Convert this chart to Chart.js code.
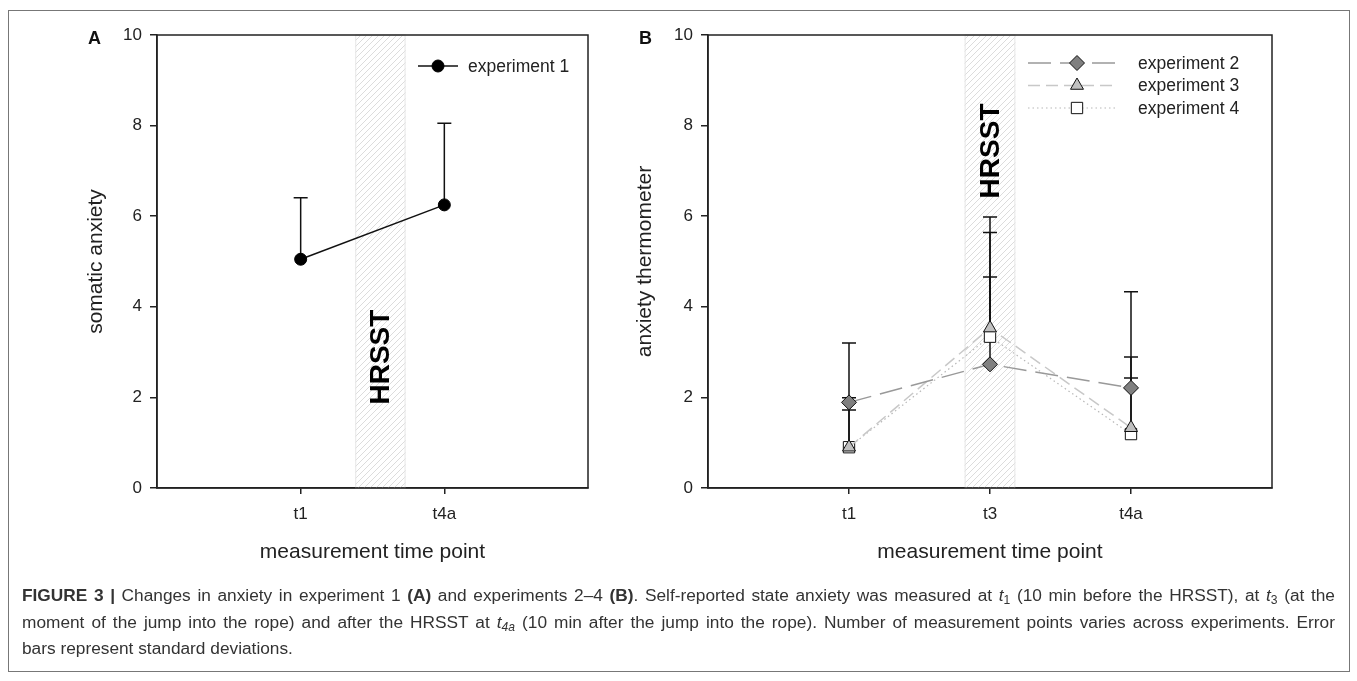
<!DOCTYPE html>
<html>
<head>
<meta charset="utf-8">
<title>Figure 3 - anxiety across experiments</title>
<script src="https://cdn.jsdelivr.net/npm/chart.js"></script>
<style>
  body { margin: 0; background: #fff; font-family: "Liberation Sans", Arial, sans-serif; color: #222; }
  #page { position: relative; width: 1357px; height: 681px; overflow: hidden; }
  #frame { position: absolute; left: 8px; top: 10px; width: 1342px; height: 662px; border: 1px solid #777; box-sizing: border-box; }
  canvas { position: absolute; top: 0; }
  #chartA { left: 0; }
  #chartB { left: 560px; }
  .tag { position: absolute; top: 27px; font-weight: bold; font-size: 18px; line-height: 22px; color: #111; }
  #caption { position: absolute; left: 22px; top: 582px; width: 1313px; font-size: 17.3px; line-height: 26.5px; color: #333; }
  #caption div { text-align: justify; text-align-last: justify; white-space: nowrap; }
  #caption div.last { text-align-last: left; }
  #caption sub { font-size: 70%; vertical-align: -3px; line-height: 0; }
</style>
</head>
<body>
<div id="page">
  <div id="frame"></div>
  <canvas id="chartA" width="650" height="600"></canvas>
  <canvas id="chartB" width="797" height="600"></canvas>
  <div class="tag" style="left:88px">A</div>
  <div class="tag" style="left:639px">B</div>
  <div id="caption">
    <div><b>FIGURE 3 |</b> Changes in anxiety in experiment 1 <b>(A)</b> and experiments 2–4 <b>(B)</b>. Self-reported state anxiety was measured at <i>t</i><sub>1</sub> (10 min before the HRSST), at <i>t</i><sub>3</sub> (at the</div>
    <div>moment of the jump into the rope) and after the HRSST at <i>t</i><sub><i>4a</i></sub> (10 min after the jump into the rope). Number of measurement points varies across experiments. Error</div>
    <div class="last">bars represent standard deviations.</div>
  </div>
</div>

<script>
  // panel A: experiment 1
  const catsA = ['t1', 't4a'];
  const exp1 = [5.05, 6.25];
  const exp1Sd = [1.36, 1.80];

  // panel B: experiments 2-4
  const catsB = ['t1', 't3', 't4a'];
  const exp2 = [1.89, 2.73, 2.21];
  const exp2Sd = [1.31, 1.93, 2.12];
  const exp3 = [0.90, 3.53, 1.33];
  const exp3Sd = [0.82, 2.45, 1.10];
  const exp4 = [0.90, 3.34, 1.19];
  const exp4Sd = [1.09, 2.30, 1.70];

  const yTicks = [0, 2, 4, 6, 8, 10];

  // HRSST window, in x-axis units
  const hrsstA = [1.38, 1.73];
  const hrsstB = [1.82, 2.18];

  const FONT = '"Liberation Sans", Arial, sans-serif';

  function pts(vals) {
    return vals.map((v, i) => ({ x: i + 1, y: v }));
  }

  function hatch(ctx) {
    const c = document.createElement('canvas');
    c.width = 6; c.height = 6;
    const g = c.getContext('2d');
    g.strokeStyle = '#dcdcdc';
    g.lineWidth = 1;
    g.beginPath();
    g.moveTo(0, 6); g.lineTo(6, 0);
    g.moveTo(-1, 1); g.lineTo(1, -1);
    g.moveTo(5, 7); g.lineTo(7, 5);
    g.stroke();
    return ctx.createPattern(c, 'repeat');
  }

  function marker(ctx, ds, x, y) {
    const r = ds.pointRadius;
    ctx.fillStyle = ds.pointBackgroundColor;
    ctx.strokeStyle = ds.pointBorderColor;
    ctx.lineWidth = ds.pointBorderWidth;
    ctx.setLineDash([]);
    ctx.beginPath();
    if (ds.pointStyle === 'circle') {
      ctx.arc(x, y, r, 0, Math.PI * 2);
    } else if (ds.pointStyle === 'rectRot') {
      ctx.moveTo(x - r, y); ctx.lineTo(x, y - r); ctx.lineTo(x + r, y); ctx.lineTo(x, y + r);
    } else if (ds.pointStyle === 'triangle') {
      ctx.moveTo(x, y - r);
      ctx.lineTo(x + r * 0.866, y + r * 0.5);
      ctx.lineTo(x - r * 0.866, y + r * 0.5);
    } else {
      const s = r * Math.SQRT1_2;
      ctx.rect(x - s, y - s, 2 * s, 2 * s);
    }
    ctx.closePath();
    ctx.fill();
    ctx.stroke();
  }

  const extras = {
    id: 'extras',
    beforeDatasetsDraw(chart, args, opts) {
      const { ctx, chartArea: a, scales: { x, y } } = chart;
      const x0 = x.getPixelForValue(opts.band[0]);
      const x1 = x.getPixelForValue(opts.band[1]);
      ctx.save();
      ctx.fillStyle = hatch(ctx);
      ctx.fillRect(x0, a.top, x1 - x0, a.bottom - a.top);
      ctx.strokeStyle = '#e6e6e6';
      ctx.lineWidth = 1;
      ctx.strokeRect(x0 + 0.5, a.top, x1 - x0 - 1, a.bottom - a.top);
      ctx.translate((x0 + x1) / 2, y.getPixelForValue(opts.labelAt));
      ctx.rotate(-Math.PI / 2);
      ctx.font = 'bold 28px ' + FONT;
      ctx.fillStyle = '#000';
      ctx.textAlign = 'center';
      ctx.textBaseline = 'middle';
      ctx.fillText('HRSST', 0, 1);
      ctx.restore();

      // error bars (upper SD only)
      ctx.save();
      ctx.strokeStyle = '#111';
      ctx.lineWidth = 1.5;
      chart.data.datasets.forEach(ds => {
        ds.data.forEach((p, i) => {
          const px = x.getPixelForValue(p.x);
          const py = y.getPixelForValue(p.y);
          const pt = y.getPixelForValue(p.y + ds.sd[i]);
          ctx.beginPath();
          ctx.moveTo(px, py); ctx.lineTo(px, pt);
          ctx.moveTo(px - 7, pt); ctx.lineTo(px + 7, pt);
          ctx.stroke();
        });
      });
      ctx.restore();
    },
    afterDraw(chart, args, opts) {
      const { ctx, chartArea: a } = chart;
      ctx.save();
      ctx.strokeStyle = '#222';
      ctx.lineWidth = 1.5;
      ctx.strokeRect(a.left, a.top, a.right - a.left, a.bottom - a.top);

      // legend
      const L = opts.legend;
      chart.data.datasets.forEach((ds, i) => {
        const ly = L.y + i * L.gap;
        ctx.strokeStyle = ds.borderColor;
        ctx.lineWidth = ds.borderWidth;
        ctx.setLineDash(ds.borderDash || []);
        ctx.beginPath();
        ctx.moveTo(L.x0, ly); ctx.lineTo(L.x1, ly);
        ctx.stroke();
        marker(ctx, ds, L.mx, ly);
        ctx.fillStyle = '#222';
        ctx.font = '17.5px ' + FONT;
        ctx.textBaseline = 'middle';
        ctx.fillText(ds.label, L.tx, ly + 1);
      });
      ctx.restore();
    }
  };

  function axes(cats, xMax, yWidth) {
    return {
      x: {
        type: 'linear',
        min: 0,
        max: xMax,
        afterBuildTicks: s => { s.ticks = cats.map((c, i) => ({ value: i + 1 })); },
        afterFit: s => { s.height = 76.6; },
        ticks: {
          autoSkip: false,
          maxRotation: 0,
          padding: 10,
          color: '#222',
          font: { family: FONT, size: 17 },
          callback: v => cats[v - 1] || ''
        },
        grid: { display: true, drawOnChartArea: false, drawTicks: true, tickLength: 6, color: '#222', lineWidth: 1.5 },
        border: { display: true, color: '#222', width: 1.5 },
        title: { display: true, text: 'measurement time point', color: '#222', padding: 0, font: { family: FONT, size: 21 } }
      },
      y: {
        min: 0,
        max: 10,
        afterBuildTicks: s => { s.ticks = yTicks.map(v => ({ value: v })); },
        afterFit: s => { s.width = yWidth; },
        ticks: { padding: 8, color: '#222', font: { family: FONT, size: 17 } },
        grid: { display: true, drawOnChartArea: false, drawTicks: true, tickLength: 7, color: '#222', lineWidth: 1.5 },
        border: { display: true, color: '#222', width: 1.5 },
        title: { display: true, color: '#222', padding: 0, font: { family: FONT, size: 21 } }
      }
    };
  }

  // panel A
  const scalesA = axes(catsA, 3, 73.6);
  scalesA.y.title.text = 'somatic anxiety';
  new Chart(document.getElementById('chartA'), {
    type: 'line',
    data: {
      datasets: [{
        label: 'experiment 1',
        data: pts(exp1),
        sd: exp1Sd,
        borderColor: '#111',
        borderWidth: 1.5,
        pointStyle: 'circle',
        pointRadius: 6,
        pointBackgroundColor: '#000',
        pointBorderColor: '#000',
        pointBorderWidth: 1,
        tension: 0
      }]
    },
    options: {
      responsive: false,
      animation: false,
      layout: { padding: { left: 83.4, top: 35, right: 62, bottom: 35.4 } },
      plugins: {
        legend: { display: false },
        tooltip: { enabled: false },
        extras: { band: hrsstA, labelAt: 2.89, legend: { x0: 418, x1: 458, mx: 438, tx: 468, y: 66, gap: 22 } }
      },
      scales: scalesA
    },
    plugins: [extras]
  });

  // panel B
  const scalesB = axes(catsB, 4, 75.6);
  scalesB.y.title.text = 'anxiety thermometer';
  new Chart(document.getElementById('chartB'), {
    type: 'line',
    data: {
      datasets: [
        {
          label: 'experiment 2',
          data: pts(exp2),
          sd: exp2Sd,
          borderColor: '#999',
          borderWidth: 1.5,
          borderDash: [23, 9],
          pointStyle: 'rectRot',
          pointRadius: 7.5,
          pointBackgroundColor: '#808080',
          pointBorderColor: '#111',
          pointBorderWidth: 1,
          tension: 0
        },
        {
          label: 'experiment 3',
          data: pts(exp3),
          sd: exp3Sd,
          borderColor: '#c8c8c8',
          borderWidth: 1.5,
          borderDash: [12, 6],
          pointStyle: 'triangle',
          pointRadius: 7.5,
          pointBackgroundColor: '#c0c0c0',
          pointBorderColor: '#111',
          pointBorderWidth: 1,
          tension: 0
        },
        {
          label: 'experiment 4',
          data: pts(exp4),
          sd: exp4Sd,
          borderColor: '#b8b8b8',
          borderWidth: 1.2,
          borderDash: [1.5, 3],
          pointStyle: 'rect',
          pointRadius: 8,
          pointBackgroundColor: '#fff',
          pointBorderColor: '#111',
          pointBorderWidth: 1,
          tension: 0
        }
      ]
    },
    options: {
      responsive: false,
      animation: false,
      layout: { padding: { left: 72.4, top: 35, right: 85, bottom: 35.4 } },
      plugins: {
        legend: { display: false },
        tooltip: { enabled: false },
        extras: { band: hrsstB, labelAt: 7.44, legend: { x0: 468, x1: 556, mx: 517, tx: 578, y: 63, gap: 22.5 } }
      },
      scales: scalesB
    },
    plugins: [extras]
  });
</script>
</body>
</html>
